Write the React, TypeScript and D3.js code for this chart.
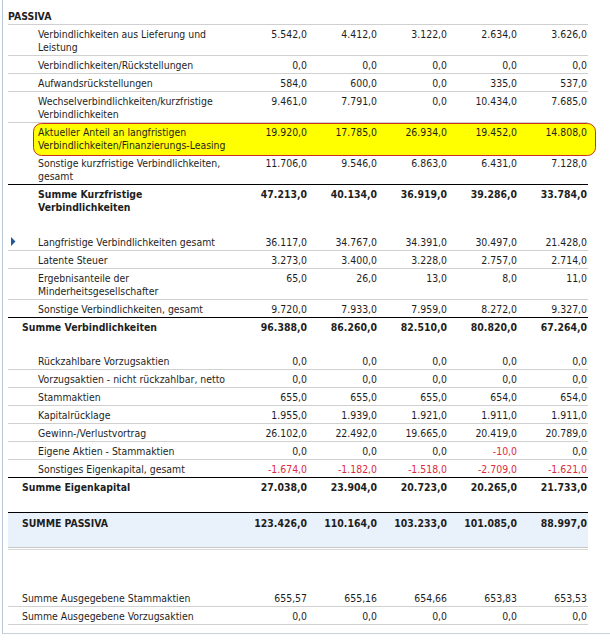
import React from "react";
import * as d3 from "d3";

// ---- data ----
const rowLabels: string[] = [
  "PASSIVA",
  "Verbindlichkeiten aus Lieferung und\nLeistung",
  "Verbindlichkeiten/Rückstellungen",
  "Aufwandsrückstellungen",
  "Wechselverbindlichkeiten/kurzfristige\nVerbindlichkeiten",
  "Aktueller Anteil an langfristigen\nVerbindlichkeiten/Finanzierungs-Leasing",
  "Sonstige kurzfristige Verbindlichkeiten,\ngesamt",
  "Summe Kurzfristige\nVerbindlichkeiten",
  "",
  "Langfristige Verbindlichkeiten gesamt",
  "Latente Steuer",
  "Ergebnisanteile der\nMinderheitsgesellschafter",
  "Sonstige Verbindlichkeiten, gesamt",
  "Summe Verbindlichkeiten",
  "",
  "Rückzahlbare Vorzugsaktien",
  "Vorzugsaktien - nicht rückzahlbar, netto",
  "Stammaktien",
  "Kapitalrücklage",
  "Gewinn-/Verlustvortrag",
  "Eigene Aktien - Stammaktien",
  "Sonstiges Eigenkapital, gesamt",
  "Summe Eigenkapital",
  "",
  "SUMME PASSIVA",
  "",
  "Summe Ausgegebene Stammaktien",
  "Summe Ausgegebene Vorzugsaktien",
];

// kind: header | item | itemLast (followed by a sum) | highlight | subsum | sum | spacer | grand
const rowKinds: string[] = [
  "header", "item", "item", "item", "item", "highlight", "itemLast", "subsum", "spacer",
  "item", "item", "item", "itemLast", "sum", "spacer",
  "item", "item", "item", "item", "item", "item", "itemLast", "sum", "spacer",
  "grand", "spacer", "item", "item",
];

const N = null;
const col1: (number | null)[] = [N, 5542, 0, 584, 9461, 19920, 11706, 47213, N, 36117, 3273, 65, 9720, 96388, N, 0, 0, 655, 1955, 26102, 0, -1674, 27038, N, 123426, N, 655.57, 0];
const col2: (number | null)[] = [N, 4412, 0, 600, 7791, 17785, 9546, 40134, N, 34767, 3400, 26, 7933, 86260, N, 0, 0, 655, 1939, 22492, 0, -1182, 23904, N, 110164, N, 655.16, 0];
const col3: (number | null)[] = [N, 3122, 0, 0, 0, 26934, 6863, 36919, N, 34391, 3228, 13, 7959, 82510, N, 0, 0, 655, 1921, 19665, 0, -1518, 20723, N, 103233, N, 654.66, 0];
const col4: (number | null)[] = [N, 2634, 0, 335, 10434, 19452, 6431, 39286, N, 30497, 2757, 8, 8272, 80820, N, 0, 0, 654, 1911, 20419, -10, -2709, 20265, N, 101085, N, 653.83, 0];
const col5: (number | null)[] = [N, 3626, 0, 537, 7685, 14808, 7128, 33784, N, 21428, 2714, 11, 9327, 67264, N, 0, 0, 654, 1911, 20789, 0, -1621, 21733, N, 88997, N, 653.53, 0];
const rowDecimals: number[] = rowLabels.map((_, i) => (i === 26 ? 2 : 1));
const markerRow = 9;

const columns = [col1, col2, col3, col4, col5];

// ---- layout ----
const W = 610;
const H = 640;
const FONT = "'DejaVu Sans Condensed', 'DejaVu Sans', sans-serif";
const FS = 10.4;
const LEFT = 8;
const RIGHT = 588;
const TEXT_X = 38;
const SUM_X = 22;

const spacerHeights = [17, 16, 17, 40];

const locale = d3.formatLocale({ decimal: ",", thousands: ".", grouping: [3], currency: ["", "€"], minus: "-" });
const fmt1 = locale.format(",.1f");
const fmt2 = locale.format(",.2f");

function rowHeight(i: number, spacerIdx: { n: number }): number {
  const k = rowKinds[i];
  if (k === "header") return 24;
  if (k === "spacer") return spacerHeights[spacerIdx.n++];
  if (k === "grand") return 36;
  return rowLabels[i].includes("\n") ? 31 : 18;
}

export default function App() {
  const sIdx = { n: 0 };
  const heights = rowLabels.map((_, i) => rowHeight(i, sIdx));
  const tops = [0, ...Array.from(d3.cumsum(heights))];

  const x = d3.scalePoint<number>().domain(d3.range(columns.length)).range([307, 587]);

  const text = "#1e1e1e";
  const red = "#dc2b3e";
  const gray = "#d0d0d0";

  const elems: React.ReactNode[] = [];

  rowLabels.forEach((label, i) => {
    const kind = rowKinds[i];
    const top = tops[i];
    const h = heights[i];
    const bottom = top + h;
    if (kind === "spacer") return;

    const bold = kind === "header" || kind === "subsum" || kind === "sum" || kind === "grand";
    const lx = kind === "header" ? LEFT : kind === "sum" || kind === "grand" || i >= 26 ? SUM_X : TEXT_X;
    const baseOff = kind === "grand" ? 15 : kind === "header" ? 20 : 13.5;

    // backgrounds
    if (kind === "grand") {
      elems.push(<rect key={`bg${i}`} x={LEFT} y={top} width={RIGHT - LEFT} height={h} fill="#e9f1fb" />);
      elems.push(<line key={`gt${i}`} x1={LEFT} x2={RIGHT} y1={top + 0.5} y2={top + 0.5} stroke="#000" />);
      elems.push(<line key={`gb${i}`} x1={LEFT} x2={RIGHT} y1={bottom - 0.5} y2={bottom - 0.5} stroke="#c8c8c8" />);
      elems.push(<line key={`gb2${i}`} x1={LEFT} x2={RIGHT} y1={bottom + 1.5} y2={bottom + 1.5} stroke="#d8d8d8" />);
    }
    if (kind === "highlight") {
      elems.push(
        <rect key={`hl${i}`} x={33.5} y={top + 1.5} width={562} height={h + 1} rx={8} ry={8}
          fill="#ffff00" stroke="#c8321e" strokeWidth={1} />
      );
    }

    // separators
    if (kind === "header" || kind === "item") {
      elems.push(<line key={`s${i}`} x1={LEFT} x2={RIGHT} y1={bottom + 0.5} y2={bottom + 0.5} stroke={gray} />);
    }
    if (kind === "itemLast") {
      elems.push(<line key={`s${i}`} x1={LEFT} x2={RIGHT} y1={bottom + 0.5} y2={bottom + 0.5} stroke="#000" />);
    }

    // label
    const lines = label.split("\n");
    elems.push(
      <text key={`l${i}`} x={lx} y={top + baseOff} fontFamily={FONT} fontSize={FS}
        fontWeight={bold ? "bold" : "normal"} fill={text}>
        {lines.map((ln, j) => (
          <tspan key={j} x={lx} dy={j === 0 ? 0 : 13}>{ln}</tspan>
        ))}
      </text>
    );

    // values
    columns.forEach((col, c) => {
      const v = col[i];
      if (v === null || v === undefined) return;
      const s = rowDecimals[i] === 2 ? fmt2(v) : fmt1(v);
      elems.push(
        <text key={`v${i}-${c}`} x={x(c)} y={top + baseOff} textAnchor="end" fontFamily={FONT}
          fontSize={FS} fontWeight={bold ? "bold" : "normal"} fill={v < 0 ? red : text}>
          {s}
        </text>
      );
    });

    if (i === markerRow) {
      const cy = top + 9.5;
      elems.push(
        <path key="marker" d={`M11,${cy - 4.5}L15.5,${cy}L11,${cy + 4.5}Z`} fill="#24589a" />
      );
    }
  });

  const lastBottom = tops[rowLabels.length];

  return (
    <svg width={W} height={H} style={{ position: "absolute", left: 0, top: 0, background: "#fff" }}>
      <rect x={0} y={0} width={W} height={H} fill="#fff" />
      {elems}
      <line x1={2.5} x2={2.5} y1={0} y2={lastBottom + 9} stroke="#b9c6d6" />
      <line x1={2} x2={W} y1={lastBottom + 9.5} y2={lastBottom + 9.5} stroke="#c9d0d9" />
    </svg>
  );
}
